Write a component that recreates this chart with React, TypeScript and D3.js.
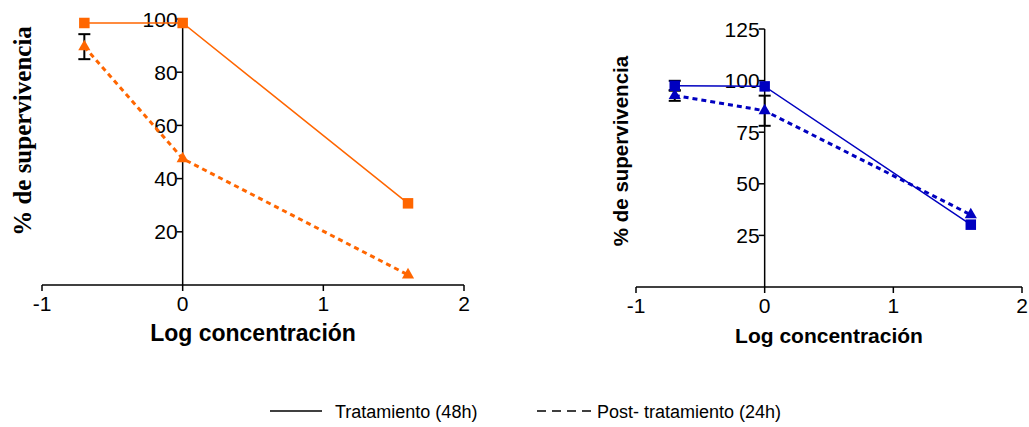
import React from "react";
import * as d3 from "d3";

// Log of the tested concentrations (0.2, 1 and 40)
const logConc = [-0.699, 0, 1.602];

// Left panel (orange)
const leftTreatment = [98.5, 98.5, 30.7];
const leftPost = [89.6, 47.5, 3.8];
const leftPostErr = [4.7, 0, 0];
const leftYTicks = [20, 40, 60, 80, 100];

// Right panel (blue)
const rightTreatment = [97.5, 97.2, 30.2];
const rightTreatmentErr = [2.4, 0, 0];
const rightPost = [92.8, 85.4, 35];
const rightPostErr = [2.6, 7.3, 0];
const rightYTicks = [25, 50, 75, 100, 125];

const xTicks = [-1, 0, 1, 2];

const legendItems = ["Tratamiento (48h)", "Post- tratamiento (24h)"];

const ORANGE = "#ff6600";
const BLUE = "#0000c0";
const SANS = "'Liberation Sans', Arial, sans-serif";
const SERIF = "'Liberation Serif', 'Times New Roman', serif";

type PanelProps = {
  x0: number;
  x1: number;
  yTop: number;
  yBottom: number;
  yMax: number;
  yTicks: number[];
  color: string;
  treatment: number[];
  treatmentErr: number[];
  post: number[];
  postErr: number[];
  yTitle: { x: number; y: number; font: string; size: number };
  xTitle: { y: number; size: number };
};

function Panel(p: PanelProps) {
  const x = d3.scaleLinear().domain([-1, 2]).range([p.x0, p.x1]);
  const y = d3.scaleLinear().domain([0, p.yMax]).range([p.yBottom, p.yTop]);
  const line = d3
    .line<number>()
    .x((_, i) => x(logConc[i]))
    .y((d) => y(d));
  const sq = 10.5;
  const tri = d3.symbol().type(d3.symbolTriangle).size(64)();

  const errBars = (vals: number[], errs: number[], key: string) =>
    vals.map((v, i) =>
      errs[i] > 0 ? (
        <g key={key + i} stroke="#000" strokeWidth={2}>
          <line x1={x(logConc[i])} x2={x(logConc[i])} y1={y(v - errs[i])} y2={y(v + errs[i])} />
          <line x1={x(logConc[i]) - 6} x2={x(logConc[i]) + 6} y1={y(v - errs[i])} y2={y(v - errs[i])} />
          <line x1={x(logConc[i]) - 6} x2={x(logConc[i]) + 6} y1={y(v + errs[i])} y2={y(v + errs[i])} />
        </g>
      ) : null
    );

  const x0pos = x(0);
  return (
    <g>
      {/* axes */}
      <line x1={p.x0} x2={p.x1} y1={p.yBottom} y2={p.yBottom} stroke="#000" strokeWidth={1.5} />
      <line x1={x0pos} x2={x0pos} y1={p.yBottom} y2={y(p.yMax)} stroke="#000" strokeWidth={1.5} />
      {xTicks.map((t) => (
        <g key={"xt" + t}>
          <line x1={x(t)} x2={x(t)} y1={p.yBottom} y2={p.yBottom + 6} stroke="#000" strokeWidth={1.5} />
          <text x={x(t)} y={p.yBottom + 26} textAnchor="middle" fontFamily={SANS} fontSize={21}>
            {t}
          </text>
        </g>
      ))}
      {p.yTicks.map((t) => (
        <g key={"yt" + t}>
          <line x1={x0pos - 6} x2={x0pos} y1={y(t)} y2={y(t)} stroke="#000" strokeWidth={1.5} />
          <text x={x0pos - 5} y={y(t) + 7.5} textAnchor="end" fontFamily={SANS} fontSize={21}>
            {t}
          </text>
        </g>
      ))}
      {/* series lines */}
      <path d={line(p.treatment) || ""} fill="none" stroke={p.color} strokeWidth={1.5} />
      <path d={line(p.post) || ""} fill="none" stroke={p.color} strokeWidth={3} strokeDasharray="5,4" />
      {errBars(p.treatment, p.treatmentErr, "te")}
      {errBars(p.post, p.postErr, "pe")}
      {/* markers */}
      {p.post.map((v, i) => (
        <path key={"tri" + i} d={tri || ""} transform={`translate(${x(logConc[i])},${y(v)})`} fill={p.color} />
      ))}
      {p.treatment.map((v, i) => (
        <rect key={"sq" + i} x={x(logConc[i]) - sq / 2} y={y(v) - sq / 2} width={sq} height={sq} fill={p.color} />
      ))}
      {/* titles */}
      <text
        transform={`translate(${p.yTitle.x},${p.yTitle.y}) rotate(-90)`}
        textAnchor="middle"
        fontFamily={p.yTitle.font}
        fontWeight="bold"
        fontSize={p.yTitle.size}
      >
        % de supervivencia
      </text>
      <text
        x={(p.x0 + p.x1) / 2}
        y={p.xTitle.y}
        textAnchor="middle"
        fontFamily={SANS}
        fontWeight="bold"
        fontSize={p.xTitle.size}
      >
        Log concentración
      </text>
    </g>
  );
}

export default function App() {
  return (
    <svg
      width={1029}
      height={427}
      style={{ position: "absolute", left: 0, top: 0, background: "#fff" }}
    >
      <Panel
        x0={42}
        x1={464}
        yTop={19}
        yBottom={285}
        yMax={100}
        yTicks={leftYTicks}
        color={ORANGE}
        treatment={leftTreatment}
        treatmentErr={[0, 0, 0]}
        post={leftPost}
        postErr={leftPostErr}
        yTitle={{ x: 31, y: 131, font: SERIF, size: 25 }}
        xTitle={{ y: 341, size: 23 }}
      />
      <Panel
        x0={636}
        x1={1022}
        yTop={29}
        yBottom={287}
        yMax={125}
        yTicks={rightYTicks}
        color={BLUE}
        treatment={rightTreatment}
        treatmentErr={rightTreatmentErr}
        post={rightPost}
        postErr={rightPostErr}
        yTitle={{ x: 628, y: 151, font: SANS, size: 20.5 }}
        xTitle={{ y: 343, size: 21 }}
      />
      {/* legend */}
      <g fontFamily={SANS} fontSize={18}>
        <line x1={270} x2={322} y1={411} y2={411} stroke="#000" strokeWidth={1.5} />
        <text x={335} y={418}>{legendItems[0]}</text>
        <line x1={537} x2={592} y1={411} y2={411} stroke="#000" strokeWidth={1.5} strokeDasharray="9,6" />
        <text x={597} y={418}>{legendItems[1]}</text>
      </g>
    </svg>
  );
}
